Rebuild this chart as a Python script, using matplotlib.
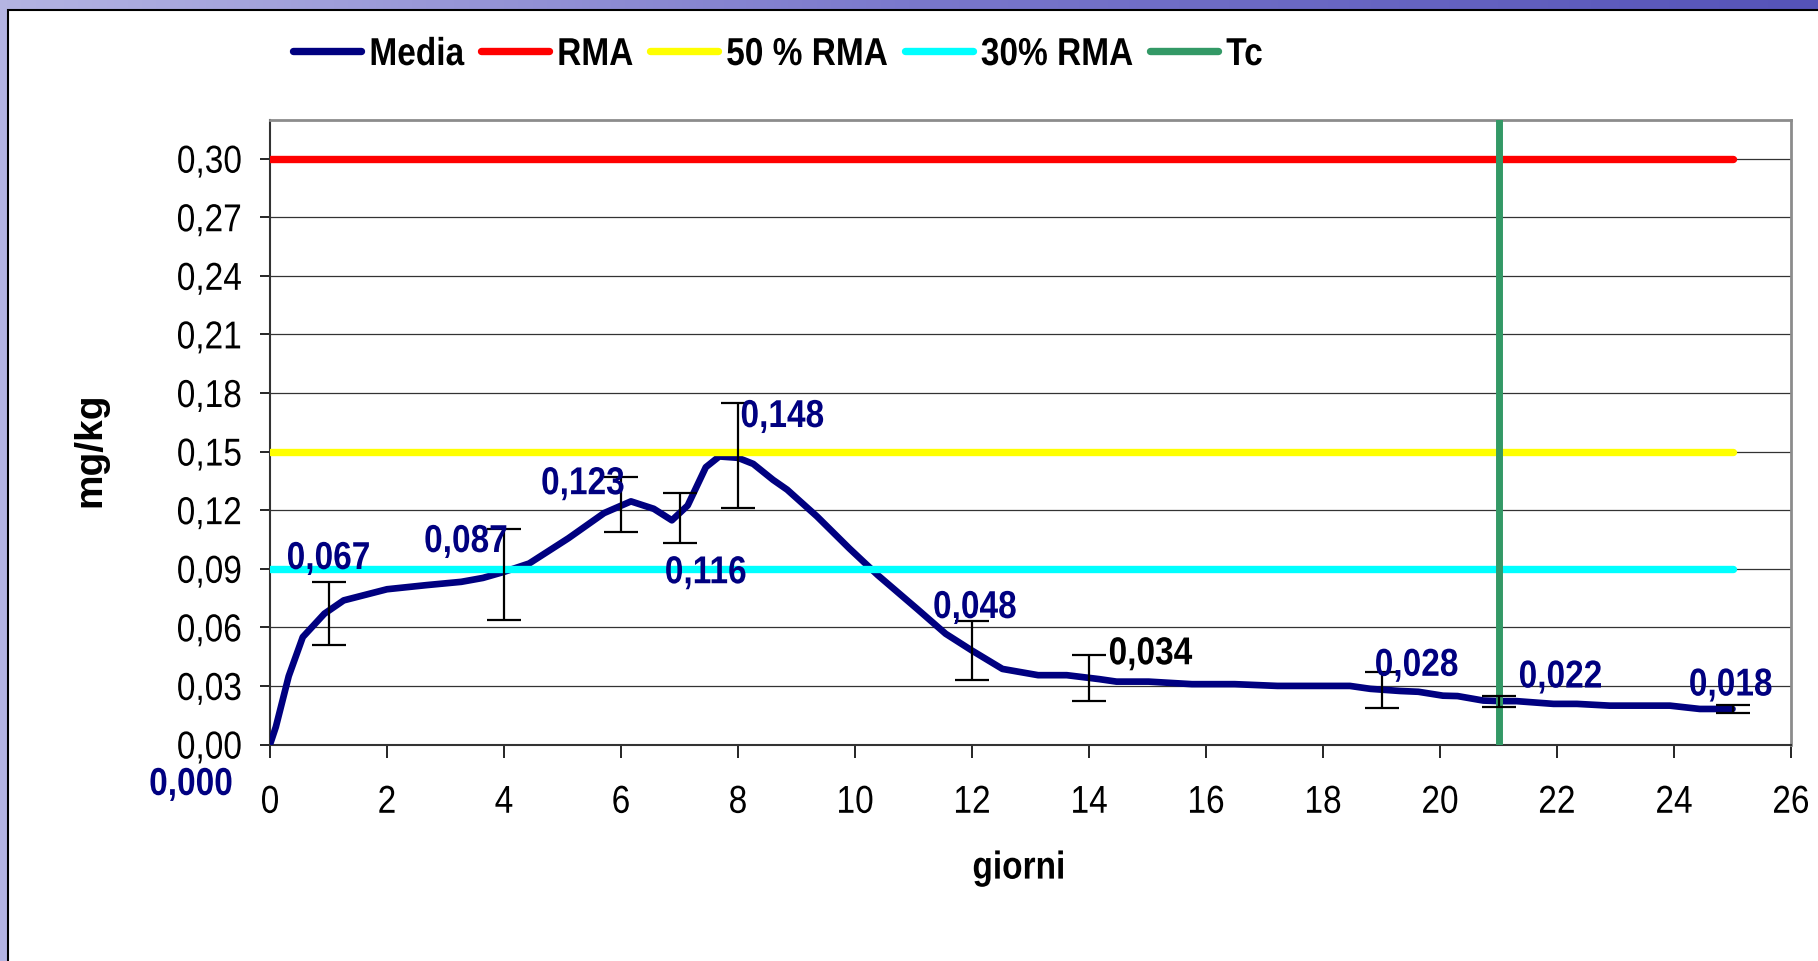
import numpy as np
import matplotlib
matplotlib.use("Agg")
import matplotlib.pyplot as plt
from matplotlib.patheffects import AbstractPathEffect
from matplotlib.transforms import Affine2D
from matplotlib.lines import Line2D

plt.rcParams['font.family'] = ['Liberation Sans', 'DejaVu Sans']

# curve of the mean
giorni_curva = [0, 0.10, 0.32, 0.56, 0.93, 1.26, 2.0, 2.67, 3.27, 3.64, 4.0, 4.43, 5.10,
                5.71, 6.17, 6.56, 6.87, 7.14, 7.45, 7.68, 8.0, 8.26, 8.60, 8.84, 9.35,
                9.90, 10.39, 11.06, 11.55, 12.0, 12.52, 13.13, 13.62, 14.17, 14.47,
                15.02, 15.76, 16.49, 17.22, 18.46, 18.81, 19.32, 19.63, 20.05, 20.30,
                20.74, 21.03, 21.31, 21.94, 22.34, 22.9, 23.93, 24.44, 25.0]
media_curva = [0, 0.009, 0.035, 0.055, 0.067, 0.0738, 0.0795, 0.0816, 0.0833, 0.0853,
               0.0884, 0.0927, 0.1056, 0.1185, 0.1245, 0.1207, 0.1148, 0.1224, 0.142,
               0.1475, 0.1468, 0.1437, 0.1355, 0.1305, 0.1168, 0.1005, 0.0867, 0.0695,
               0.0567, 0.0481, 0.0387, 0.0355, 0.0355, 0.0335, 0.0322, 0.0322, 0.0309,
               0.0309, 0.0300, 0.0300, 0.0285, 0.0274, 0.0270, 0.0250, 0.0248, 0.0225,
               0.0222, 0.0222, 0.0208, 0.0208, 0.0199, 0.0199, 0.0182, 0.0182]

# sampling days with labels and error bars
giorni = [1, 4, 6, 7, 8, 12, 14, 19, 21, 25]
media = [0.067, 0.087, 0.123, 0.116, 0.148, 0.048, 0.034, 0.028, 0.022, 0.018]
errore = [0.016, 0.0235, 0.014, 0.013, 0.027, 0.015, 0.0117, 0.0093, 0.0026, 0.002]

rma = 0.30
rma_50 = 0.15
rma_30 = 0.09
tc = 21
giorno_fine = 25

# label placement (offset from the point, data units)
lab_dx = [0.0, -0.65, -0.65, 0.45, 0.76, 0.05, 1.05, 0.6, 1.06, -0.03]
lab_dy = [0.028, 0.0167, 0.0103, -0.0283, 0.0197, 0.0219, 0.0122, 0.0123, 0.0123, 0.0122]
lab_col = ['#000080'] * 6 + ['black'] + ['#000080'] * 3

FS = 28
SQ = 0.86


class Squeeze(AbstractPathEffect):
    """narrow the glyphs (Arial Narrow look) around an anchor"""
    def __init__(self, s=SQ, anchor='center', vertical=False):
        super().__init__()
        self.s, self.anchor, self.vertical = s, anchor, vertical

    def draw_path(self, renderer, gc, tpath, affine, rgbFace=None):
        ext = tpath.transformed(affine).get_extents()
        if self.vertical:
            c = (ext.y0 + ext.y1) / 2
            t = Affine2D().translate(0, -c).scale(1, self.s).translate(0, c)
        else:
            c = {'left': ext.x0, 'right': ext.x1}.get(self.anchor, (ext.x0 + ext.x1) / 2)
            t = Affine2D().translate(-c, 0).scale(self.s, 1).translate(c, 0)
        renderer.draw_path(gc, tpath, affine + t, rgbFace)


W, H = 1818, 962
fig = plt.figure(figsize=(W / 100, H / 100), dpi=100)

# slide background
bg = fig.add_axes([0, 0, 1, 1], zorder=-10)
grad = np.linspace(0, 1, 256).reshape(1, -1)
cmap = matplotlib.colors.LinearSegmentedColormap.from_list('bg', ['#b4b4e2', '#7a78cc', '#5553b8'])
bg.imshow(grad, aspect='auto', cmap=cmap, extent=[0, 1, 0, 1])
bg.add_patch(plt.Rectangle((8 / W, -0.01), 1.0, 1 - 11 / H + 0.01, facecolor='white',
                           edgecolor='black', linewidth=1.5))
bg.set_xlim(0, 1)
bg.set_ylim(0, 1)
bg.axis('off')

ax = fig.add_axes([270 / W, 1 - 745.5 / H, (1791 - 270) / W, (745.5 - 120.6) / H])
ax.set_facecolor('white')

linee = []
linee += ax.plot(giorni_curva, media_curva, color='#000080', lw=4.8, label='Media', zorder=3,
                 solid_joinstyle='round', solid_capstyle='round')
linee += ax.plot([0, giorno_fine], [rma, rma], color='#ff0000', lw=5.3, label='RMA', zorder=4,
                 solid_capstyle='round')
linee += ax.plot([0, giorno_fine], [rma_50, rma_50], color='#ffff00', lw=5.3, label='50 % RMA',
                 zorder=4, solid_capstyle='round')
linee += ax.plot([0, giorno_fine], [rma_30, rma_30], color='#00ffff', lw=5.3, label='30% RMA',
                 zorder=4, solid_capstyle='round')
linee += ax.plot([tc, tc], [0, 0.32], color='#339966', lw=5, label='Tc', zorder=5)

ax.errorbar(giorni, media, yerr=errore, fmt='none', ecolor='black', elinewidth=1.6,
            capsize=12, capthick=1.6, zorder=6)

sq = [Squeeze()]
for g, m, dx, dy, c in zip(giorni, media, lab_dx, lab_dy, lab_col):
    ax.text(g + dx, m + dy, f"{m:.3f}".replace('.', ','), color=c, fontsize=FS,
            fontweight='bold', ha='center', va='center', zorder=7, path_effects=sq)
ax.text(-1.35, -0.0207, "0,000", color='#000080', fontsize=FS, fontweight='bold',
        ha='center', va='center', clip_on=False, path_effects=sq)

ax.set_xlim(0, 26)
ax.set_ylim(0, 0.32)
ax.set_xticks(np.arange(0, 27, 2))
yt = np.arange(0, 0.301, 0.03)
ax.set_yticks(yt)
ax.set_yticklabels([f"{v:.2f}".replace('.', ',') for v in yt])
ax.tick_params(axis='both', labelsize=FS, direction='out', width=1.2)
ax.tick_params(axis='y', length=7, pad=13)
ax.tick_params(axis='x', length=9, pad=20)
ax.yaxis.grid(True, color='#333333', lw=0.9)
ax.set_axisbelow(True)
for s in ['top', 'right']:
    ax.spines[s].set_color('#8c8c8c')
    ax.spines[s].set_linewidth(2)
for s in ['left', 'bottom']:
    ax.spines[s].set_color('#333333')
    ax.spines[s].set_linewidth(1.5)
for lab in ax.get_xticklabels():
    lab.set_path_effects([Squeeze()])
for lab in ax.get_yticklabels():
    lab.set_path_effects([Squeeze(anchor='right')])

fig.text(1019 / W, 1 - 869.6 / H, 'giorni', fontsize=FS, fontweight='bold',
         ha='center', va='center', path_effects=sq)
fig.text(90 / W, 1 - 450 / H, 'mg/kg', fontsize=FS, fontweight='bold', rotation=90,
         ha='center', va='center')

# legend row on top, laid out by hand so the narrowed texts keep even gaps
renderer = fig.canvas.get_renderer()
x = 293
y = 1 - 52 / H
for ln in linee:
    fig.add_artist(Line2D([x / W, (x + 68) / W], [y, y], color=ln.get_color(), lw=5.3,
                          solid_capstyle='round'))
    x += 76
    t = fig.text(x / W, y, ln.get_label(), fontsize=FS, fontweight='bold', ha='left',
                 va='center_baseline', path_effects=[Squeeze(anchor='left')])
    x += t.get_window_extent(renderer).width * SQ + 17

fig.savefig('out.png', dpi=100)
